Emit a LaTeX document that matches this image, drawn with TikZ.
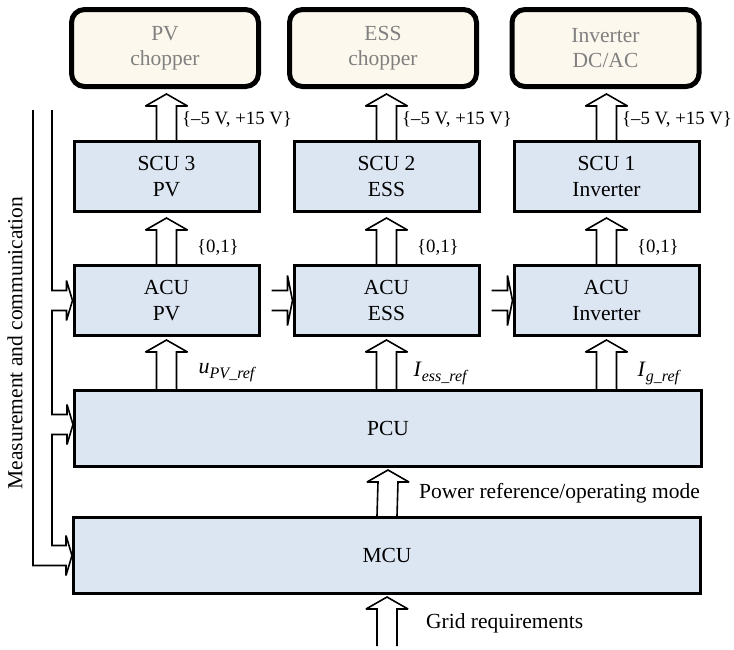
\documentclass[tikz,border=0pt]{standalone}
\usepackage{fontspec}
\setmainfont{Liberation Serif}
\usetikzlibrary{calc}

\definecolor{unitblue}{HTML}{DCE6F2}
\definecolor{convcream}{HTML}{FDF8ED}
\definecolor{convgray}{HTML}{808080}

\newcommand\unitfont{\fontsize{21.5}{25.5}\selectfont}
\newcommand\sigfont{\fontsize{18.8}{22}\selectfont}
\newcommand\reflabel[2]{{\fontsize{22}{24}\selectfont\textit{#1}}\raisebox{-5pt}{\fontsize{16}{18}\selectfont\textit{#2}}}

\tikzset{
    % Colors
    unit color/.style={fill=unitblue},
    converter color/.style={fill=convcream},
    %
    % Blocks
    unit/.style={draw,unit color,line width=3pt,minimum width=185pt,minimum height=70pt,
        align=center,inner sep=0pt,font=\unitfont},
    wide unit/.style={unit,minimum width=627pt,minimum height=76pt},
    converter/.style={draw,converter color,line width=5pt,rounded corners=13pt,minimum width=187pt,
        minimum height=77pt,align=center,inner sep=0pt,text=convgray,font=\unitfont},
    %
    % Arrows
    hollow/.style={line width=1.6pt,miter limit=2},
    up arrow/.style={hollow,to path={
        ($(\tikztostart)+(-10,0)$) -- ($(\tikztotarget)+(-10,12)$) -- ($(\tikztotarget)+(-21,12)$)
        -- (\tikztotarget) -- ($(\tikztotarget)+(21,12)$) -- ($(\tikztotarget)+(10,12)$)
        -- ($(\tikztostart)+(10,0)$)}},
    right arrow/.style={hollow,to path={
        ($(\tikztostart)+(0,-10)$) -- ($(\tikztotarget)+(-5,-10)$) -- ($(\tikztotarget)+(-5,-25)$)
        -- (\tikztotarget) -- ($(\tikztotarget)+(-5,25)$) -- ($(\tikztotarget)+(-5,10)$)
        -- ($(\tikztostart)+(0,10)$)}},
    bus/.style={line width=1.6pt,miter limit=2},
    %
    % Labels
    sig/.style={anchor=west,inner sep=0pt,font=\sigfont},
    note/.style={anchor=west,inner sep=0pt,font=\unitfont}
}

\begin{document}
\begin{tikzpicture}[x=1pt,y=-1pt]
    \useasboundingbox (0,0) rectangle (734,649);

    % power converters
    \node[converter] (pvch) at (165,48) {PV\\chopper};
    \node[converter] (essch) at (383,48) {ESS\\chopper};
    \node[converter] (invch) at (605.5,48) {Inverter\\DC/AC};

    % switching control units
    \node[unit] (scupv) at (166.5,176.5) {SCU 3\\PV};
    \node[unit] (scuess) at (386.5,176.5) {SCU 2\\ESS};
    \node[unit] (scuinv) at (606.5,176.5) {SCU 1\\Inverter};

    % application control units
    \node[unit] (acupv) at (166.5,300.5) {ACU\\PV};
    \node[unit] (acuess) at (386.5,300.5) {ACU\\ESS};
    \node[unit] (acuinv) at (606.5,300.5) {ACU\\Inverter};

    \node[wide unit] (pcu) at (388,428.5) {PCU};
    \node[wide unit] (mcu) at (387,555.5) {MCU};

    % gate signals
    \draw[up arrow] (scupv.north) to ($(scupv.north |- pvch.south)+(0,5)$);
    \draw[up arrow] (scuess.north) to ($(scuess.north |- essch.south)+(0,5)$);
    \draw[up arrow] (scuinv.north) to ($(scuinv.north |- invch.south)+(0,5)$);
    \foreach \c in {scupv,scuess,scuinv}
        \node[sig] (v\c) at ($(\c.north)+(15.5,-21)$) {\{--5 V, +15 V\}};

    \draw[up arrow] (acupv.north) to ($(scupv.south)+(0,5)$);
    \draw[up arrow] (acuess.north) to ($(scuess.south)+(0,5)$);
    \draw[up arrow] (acuinv.north) to ($(scuinv.south)+(0,5)$);
    \foreach \c in {acupv,acuess,acuinv}
        \node[sig] (b\c) at ($(\c.north)+(30.5,-17)$) {\{0,1\}};

    % references from the PCU
    \draw[up arrow] (acupv.south |- pcu.north) to ($(acupv.south)+(0,3)$);
    \draw[up arrow] (acuess.south |- pcu.north) to ($(acuess.south)+(0,3)$);
    \draw[up arrow] (acuinv.south |- pcu.north) to ($(acuinv.south)+(0,3)$);
    \node[sig] (upv) at ($(acupv.south)+(32,36)$) {\reflabel{u}{PV\_ref}};
    \node[sig] (iess) at ($(acuess.south)+(27,36)$) {\reflabel{I}{ess\_ref}};
    \node[sig] (ig) at ($(acuinv.south)+(31,36)$) {\reflabel{I}{g\_ref}};

    % links between the ACUs
    \draw[right arrow] ($(acupv.east)+(11,0)$) to (acuess.west);
    \draw[right arrow] ($(acuess.east)+(11,0)$) to (acuinv.west);

    \draw[up arrow] (mcu.north) to ($(pcu.south)+(0,2)$);
    \node[note] (mode) at ($(mcu.north)+(32,-23)$) {Power reference/operating mode};

    \coordinate (gridin) at ($(mcu.south)+(0,51)$);
    \draw[up arrow] (gridin) to ($(mcu.south)+(0,2)$);
    \node[note] (grid) at ($(mcu.south)+(39,28)$) {Grid requirements};

    % measurement and communication bus
    \coordinate (busin) at (52,110);
    \coordinate (busout) at (33,110);
    \draw[bus] (busin) |- ($(acupv.west)+(-6,-10)$) -- ++(0,-10) -- (acupv.west) -- ++(-6,20) -- ++(0,-10)
        -- ($(busin |- acupv.west)+(0,10)$) |- ($(pcu.west)+(-6,-14)$) -- ++(0,-10) -- ($(pcu.west)+(0,-4)$)
        -- ++(-6,20) -- ++(0,-10) -- ($(busin |- pcu.west)+(0,6)$) |- ($(mcu.west)+(-6,-10)$) -- ++(0,-10)
        -- (mcu.west) -- ++(-6,20) -- ++(0,-10) -| (busout);
    \node[rotate=90,font=\unitfont] (meas) at (15,343) {Measurement and communication};
\end{tikzpicture}
\end{document}
